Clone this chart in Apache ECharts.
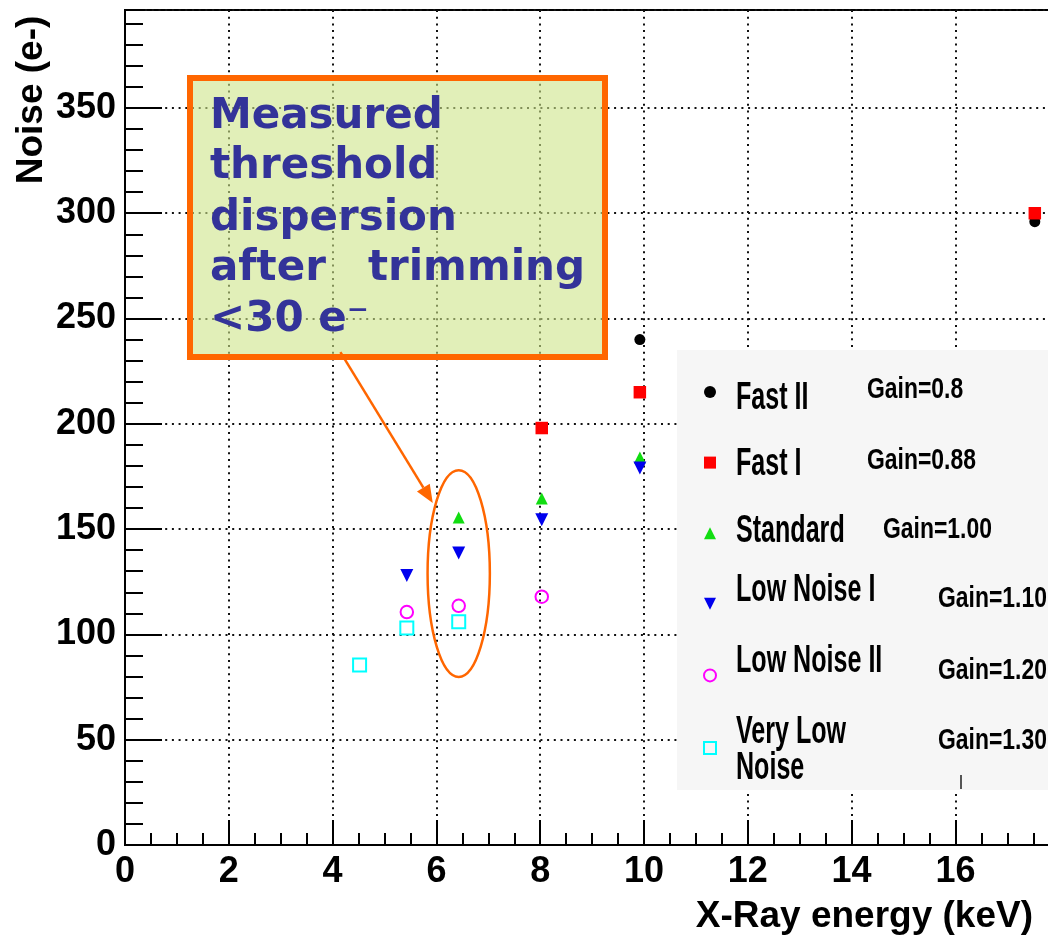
<!DOCTYPE html>
<html>
<head>
<meta charset="utf-8">
<script src="https://cdn.jsdelivr.net/npm/echarts@6/dist/echarts.min.js"></script>
<style>
  html, body { margin: 0; padding: 0; background: #ffffff; }
  #chart { width: 1048px; height: 935px; }
</style>
</head>
<body>
<div id="chart"></div>
<script>
// Chip front-end settings, with their gain factors
const seriesNames = ['Fast II', 'Fast I', 'Standard', 'Low Noise I', 'Low Noise II', 'Very Low Noise'];
const gainLabels = ['Gain=0.8', 'Gain=0.88', 'Gain=1.00', 'Gain=1.10', 'Gain=1.20', 'Gain=1.30'];

// X-ray line energies (keV) and measured noise (e-) per setting
const fastIIEnergy = [9.92, 17.53];
const fastIINoise = [240, 296];
const fastIEnergy = [8.03, 9.92, 17.53];
const fastINoise = [198, 215, 300];
const standardEnergy = [6.43, 8.03, 9.92];
const standardNoise = [155.5, 164.5, 184];
const lowNoiseIEnergy = [5.43, 6.43, 8.03, 9.92];
const lowNoiseINoise = [128, 138.6, 154.5, 179];
const lowNoiseIIEnergy = [5.43, 6.43, 8.03];
const lowNoiseIINoise = [110.6, 113.6, 117.9];
const veryLowNoiseEnergy = [4.52, 5.43, 6.43];
const veryLowNoiseNoise = [85.5, 103, 106];

// Axis ranges and tick steps
const xRange = [0, 18];
const xStep = 2;
const yRange = [0, 396.5];
const yStep = 50;
const yMinorStep = 10;

// Annotation text
const noteLines = ['Measured', 'threshold', 'dispersion', 'after', 'trimming', '<30 e\u207B'];
const xTitle = 'X-Ray energy (keV)';
const yTitle = 'Noise (e-)';

const pairs = (xs, ys) => xs.map((x, i) => [x, ys[i]]);

const FONT = "'Liberation Sans', Arial, Helvetica, sans-serif";
const NOTE_FONT = "'DejaVu Sans', Verdana, sans-serif";
const ORANGE = '#ff6600';

const chart = echarts.init(document.getElementById('chart'), null, { renderer: 'canvas' });

const tickLine = { color: '#000', width: 2 };
const gridDots = { color: '#111', width: 2, type: [2, 4.7], cap: 'butt' };

const option = {
  animation: false,
  backgroundColor: '#ffffff',
  grid: {
    left: 125, top: 10, width: 934.2, height: 835,
    show: true, borderColor: '#000', borderWidth: 2, backgroundColor: 'transparent',
    outerBoundsMode: 'none'
  },
  xAxis: {
    type: 'value', min: xRange[0], max: xRange[1], interval: xStep,
    axisLine: { show: true, onZero: false, lineStyle: tickLine },
    axisTick: { show: true, inside: true, length: 25, lineStyle: tickLine },
    minorTick: { show: true, splitNumber: 4, length: 12, lineStyle: tickLine },
    axisLabel: {
      margin: 9, color: '#000', fontFamily: FONT, fontWeight: 'bold', fontSize: 36,
      showMaxLabel: false, showMinLabel: true
    },
    splitLine: { show: true, lineStyle: gridDots }
  },
  yAxis: [
    {
      type: 'value', min: yRange[0], max: yRange[1], interval: yStep, position: 'left',
      axisLine: { show: true, onZero: false, lineStyle: tickLine },
      axisTick: { show: true, inside: true, length: 37, lineStyle: tickLine },
      axisLabel: {
        margin: 9, color: '#000', fontFamily: FONT, fontWeight: 'bold', fontSize: 36,
        showMaxLabel: false, showMinLabel: true, padding: [10, 0, 0, 0]
      },
      splitLine: { show: true, lineStyle: gridDots }
    },
    {
      // fine 10 e- ticks along the noise axis
      type: 'value', min: yRange[0], max: yRange[1], interval: yMinorStep, position: 'left', offset: 0,
      axisLine: { show: false },
      axisTick: { show: true, inside: true, length: 18, lineStyle: tickLine },
      axisLabel: { show: false },
      splitLine: { show: false }
    }
  ],
  legend: {
    orient: 'vertical', left: 698, top: 381,
    itemWidth: 12, itemHeight: 12, itemGap: 58.6,
    formatter: () => '',
    textStyle: { fontSize: 10, lineHeight: 10 },
    selectedMode: false,
    data: seriesNames.map((n, i) => i === 3
      ? { name: n, icon: 'path://M0,0L12,0L6,12Z' }
      : { name: n })
  },
  series: [
    { name: seriesNames[0], type: 'scatter', data: pairs(fastIIEnergy, fastIINoise),
      symbol: 'circle', symbolSize: 11, itemStyle: { color: '#000000', opacity: 1 } },
    { name: seriesNames[1], type: 'scatter', data: pairs(fastIEnergy, fastINoise),
      symbol: 'rect', symbolSize: 12.5, itemStyle: { color: '#ff0000', opacity: 1 } },
    { name: seriesNames[2], type: 'scatter', data: pairs(standardEnergy, standardNoise),
      symbol: 'triangle', symbolSize: 12, itemStyle: { color: '#11dd11', opacity: 1 } },
    { name: seriesNames[3], type: 'scatter', data: pairs(lowNoiseIEnergy, lowNoiseINoise),
      symbol: 'triangle', symbolRotate: 180, symbolSize: 13, itemStyle: { color: '#0000ee', opacity: 1 } },
    { name: seriesNames[4], type: 'scatter', data: pairs(lowNoiseIIEnergy, lowNoiseIINoise),
      symbol: 'circle', symbolSize: 12.5,
      itemStyle: { color: 'rgba(0,0,0,0)', borderColor: '#ff00ff', borderWidth: 2, opacity: 1 } },
    { name: seriesNames[5], type: 'scatter', data: pairs(veryLowNoiseEnergy, veryLowNoiseNoise),
      symbol: 'rect', symbolSize: 13,
      itemStyle: { color: 'rgba(0,0,0,0)', borderColor: '#00ffff', borderWidth: 2, opacity: 1 } }
  ]
};

chart.setOption(option);

// ---- annotations: ellipse around the 6.4 keV points and an arrow to it ----
const px = (x, y) => chart.convertToPixel({ gridIndex: 0 }, [x, y]);
const ellC = px(6.43, 128.9);
const ellR = px(6.43 + 0.6, 128.9 + 49.1);
const arrowFrom = px(4.15, 234);
const arrowTo = px(5.93, 162.4);
const dx = arrowTo[0] - arrowFrom[0], dy = arrowTo[1] - arrowFrom[1];
const len = Math.hypot(dx, dy), ux = dx / len, uy = dy / len;
const headLen = 18, headHalf = 7.5;
const base = [arrowTo[0] - ux * headLen, arrowTo[1] - uy * headLen];
const head = [
  arrowTo,
  [base[0] - uy * headHalf, base[1] + ux * headHalf],
  [base[0] + uy * headHalf, base[1] - ux * headHalf]
];

// legend labels, drawn narrow
const nameRows = [
  { t: seriesNames[0], y: 399 },
  { t: seriesNames[1], y: 465 },
  { t: 'Standard', y: 532 },
  { t: seriesNames[3], y: 591 },
  { t: seriesNames[4], y: 662 },
  { t: 'Very Low', y: 733 },
  { t: 'Noise', y: 769 }
];
const gainRows = [
  { x: 867, y: 390 }, { x: 867, y: 461 }, { x: 883, y: 530 },
  { x: 938, y: 599 }, { x: 938, y: 671 }, { x: 938, y: 741 }
];

const graphics = [
  // legend panel
  { type: 'rect', z: 3, silent: true,
    shape: { x: 677, y: 350, width: 400, height: 440 },
    style: { fill: '#f6f6f6' } },
  { type: 'line', z: 3, silent: true,
    shape: { x1: 961, y1: 775, x2: 961, y2: 789 },
    style: { stroke: '#555', lineWidth: 2 } }
];
nameRows.forEach(r => graphics.push({
  type: 'text', z: 5, silent: true, x: 736, y: r.y, scaleX: 0.66,
  style: { text: r.t, fill: '#000', font: "bold 38px " + FONT, align: 'left', verticalAlign: 'middle' }
}));
gainRows.forEach((r, i) => graphics.push({
  type: 'text', z: 5, silent: true, x: r.x, y: r.y, scaleX: 0.79,
  style: { text: gainLabels[i], fill: '#000', font: "bold 29px " + FONT, align: 'left', verticalAlign: 'middle' }
}));

// note box
graphics.push({
  type: 'rect', z: 6, silent: true,
  shape: { x: 190, y: 78, width: 415, height: 279 },
  style: { fill: 'rgba(205,228,136,0.6)', stroke: ORANGE, lineWidth: 6 }
});
const noteFont = "bold 42px " + NOTE_FONT;
const noteY = [117.5, 167.5, 219.5, 269.5, 269.5, 320.5];
noteLines.forEach((t, i) => {
  const right = (i === 4);
  graphics.push({
    type: 'text', z: 7, silent: true, x: right ? 585 : 210, y: noteY[i],
    style: { text: t, fill: '#333399', font: noteFont, align: right ? 'right' : 'left', verticalAlign: 'middle' }
  });
});

// ellipse and arrow
graphics.push({
  type: 'ellipse', z: 7, silent: true,
  shape: { cx: ellC[0], cy: ellC[1], rx: Math.abs(ellR[0] - ellC[0]), ry: Math.abs(ellR[1] - ellC[1]) },
  style: { fill: 'none', stroke: ORANGE, lineWidth: 2.5 }
});
graphics.push({
  type: 'line', z: 7, silent: true,
  shape: { x1: arrowFrom[0], y1: arrowFrom[1], x2: base[0], y2: base[1] },
  style: { stroke: ORANGE, lineWidth: 2.5 }
});
graphics.push({
  type: 'polygon', z: 7, silent: true,
  shape: { points: head },
  style: { fill: ORANGE }
});

// axis titles
graphics.push({
  type: 'text', z: 5, silent: true, x: 1033, y: 917,
  style: { text: xTitle, fill: '#000', font: "bold 37px " + FONT, align: 'right', verticalAlign: 'middle' }
});
graphics.push({
  type: 'text', z: 5, silent: true, x: 32, y: 100, rotation: Math.PI / 2,
  style: { text: yTitle, fill: '#000', font: "bold 37px " + FONT, align: 'center', verticalAlign: 'middle' }
});

chart.setOption({ graphic: { elements: graphics } });
</script>
</body>
</html>
